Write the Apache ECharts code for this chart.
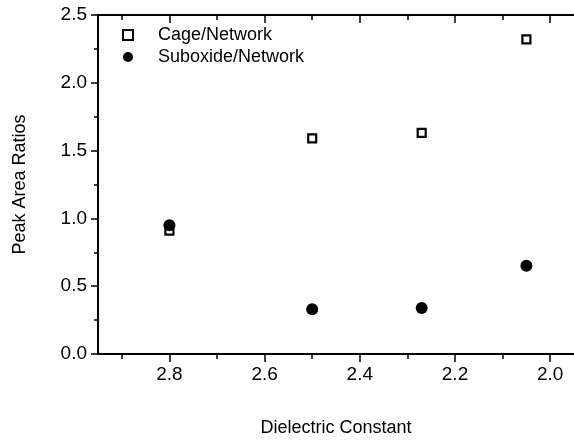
<!DOCTYPE html>
<html>
<head>
<meta charset="utf-8">
<script src="https://cdn.jsdelivr.net/npm/echarts@6/dist/echarts.min.js"></script>
<style>
  html, body { margin: 0; padding: 0; background: #fff; }
  #chart { width: 574px; height: 442px; }
</style>
</head>
<body>
<div id="chart"></div>
<script>
// Peak area ratios versus dielectric constant
const dielectric = [2.8, 2.5, 2.27, 2.05];
const cageNetwork = [0.91, 1.59, 1.63, 2.32];
const suboxideNetwork = [0.95, 0.33, 0.34, 0.65];

const xMajorTicks = [2.0, 2.2, 2.4, 2.6, 2.8];
const xMinorTicks = [2.1, 2.3, 2.5, 2.7, 2.9];
const xRange = [1.95, 2.95];
const yRange = [0, 2.5];

const FONT = "'Liberation Sans', Arial, sans-serif";
const INK = '#000';
const TICK_FONT = 19;
const TEXT_FONT = 18;

function pairs(xs, ys) {
  return xs.map((x, i) => [x, ys[i]]);
}

function xAxisBase(position, inside, ticks, len, showLine, showLabel) {
  return {
    type: 'value',
    position: position,
    inverse: true,
    min: xRange[0],
    max: xRange[1],
    axisLine: { show: showLine, onZero: false, lineStyle: { color: INK, width: 2 } },
    axisTick: {
      show: true, inside: inside, length: len, customValues: ticks,
      lineStyle: { color: INK, width: 1.5 }
    },
    axisLabel: showLabel ? {
      show: true, customValues: ticks, margin: 11,
      color: INK, fontFamily: FONT, fontSize: TICK_FONT,
      formatter: v => v.toFixed(1)
    } : { show: false },
    splitLine: { show: false }
  };
}

const chart = echarts.init(document.getElementById('chart'), null, { renderer: 'canvas' });

chart.setOption({
  animation: false,
  backgroundColor: '#fff',
  grid: { left: 98, right: -2, top: 15, bottom: 88, containLabel: false },
  legend: {
    left: 122,
    top: 26,
    padding: 0,
    orient: 'vertical',
    itemWidth: 10,
    itemHeight: 10,
    itemGap: 4,
    textStyle: { color: INK, fontFamily: FONT, fontSize: TEXT_FONT, lineHeight: 18, padding: [0, 0, 0, 20] },
    data: ['Cage/Network', 'Suboxide/Network']
  },
  xAxis: [
    Object.assign(xAxisBase('bottom', false, xMajorTicks, 8, true, true), {
      name: 'Dielectric Constant',
      nameLocation: 'middle',
      nameGap: 65,
      nameTextStyle: { color: INK, fontFamily: FONT, fontSize: TEXT_FONT }
    }),
    xAxisBase('bottom', false, xMinorTicks, 5, false, false),
    xAxisBase('top', true, xMajorTicks, 8, true, false),
    xAxisBase('top', true, xMinorTicks, 5, false, false)
  ],
  yAxis: {
    type: 'value',
    min: yRange[0],
    max: yRange[1],
    interval: 0.5,
    name: 'Peak Area Ratios',
    nameLocation: 'middle',
    nameGap: 69,
    nameTextStyle: { color: INK, fontFamily: FONT, fontSize: TEXT_FONT },
    axisLine: { show: true, lineStyle: { color: INK, width: 2 } },
    axisTick: { show: true, inside: false, length: 7, lineStyle: { color: INK, width: 1.5 } },
    minorTick: { show: true, splitNumber: 2, length: 4, lineStyle: { color: INK, width: 1.5 } },
    axisLabel: {
      margin: 11, color: INK, fontFamily: FONT, fontSize: TICK_FONT,
      formatter: v => v.toFixed(1)
    },
    splitLine: { show: false },
    minorSplitLine: { show: false }
  },
  series: [
    {
      name: 'Cage/Network',
      type: 'scatter',
      xAxisIndex: 0,
      symbol: 'rect',
      symbolSize: 8,
      itemStyle: { color: '#fff', borderColor: INK, borderWidth: 2.2, opacity: 1 },
      data: pairs(dielectric, cageNetwork),
      z: 3
    },
    {
      name: 'Suboxide/Network',
      type: 'scatter',
      xAxisIndex: 0,
      symbol: 'circle',
      symbolSize: 12,
      itemStyle: { color: INK, opacity: 1 },
      data: pairs(dielectric, suboxideNetwork),
      z: 4
    }
  ]
});
</script>
</body>
</html>
